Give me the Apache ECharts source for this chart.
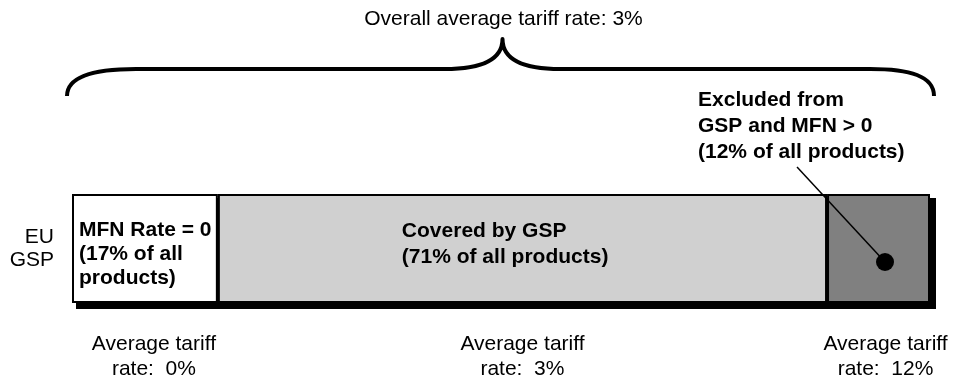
<!DOCTYPE html>
<html>
<head>
<meta charset="utf-8">
<script src="https://cdn.jsdelivr.net/npm/echarts@6/dist/echarts.min.js"></script>
<style>
  html, body { margin: 0; padding: 0; background: #fff; }
  #chart { width: 965px; height: 382px; }
</style>
</head>
<body>
<div id="chart"></div>
<script>
// Shares of all products by EU GSP treatment, and the average tariff of each group
const categories = ['EU\nGSP'];
const segmentNames = ['MFN Rate = 0', 'Covered by GSP', 'Excluded from GSP and MFN > 0'];
const shares = [17, 71, 12];
const avgTariffs = [0, 3, 12];
const overallTariff = 3;
const segmentColors = ['#ffffff', '#d0d0d0', '#808080'];

const FONT = '"Liberation Sans", Arial, Helvetica, sans-serif';

// Cumulative starts / centres of each segment along the share axis
const starts = shares.map((_, i) => shares.slice(0, i).reduce((a, b) => a + b, 0));
const centers = shares.map((s, i) => starts[i] + s / 2);
const total = shares.reduce((a, b) => a + b, 0);

const barLabelText = [
  segmentNames[0] + '\n(' + shares[0] + '% of all\nproducts)',
  segmentNames[1] + '\n(' + shares[1] + '% of all products)',
  ''
];
const barLabelPos = [[7, 24], [184, 24], [0, 0]];
const barLabelLH = [24, 26, 26];

const barSeries = shares.map((v, i) => ({
  name: segmentNames[i],
  type: 'bar',
  stack: 'all',
  barWidth: '100%',
  z: 3,
  data: [v],
  itemStyle: {
    color: segmentColors[i],
    borderColor: '#000',
    borderWidth: 2
  },
  label: {
    show: i < 2,
    position: barLabelPos[i],
    align: 'left',
    verticalAlign: 'top',
    formatter: barLabelText[i],
    fontFamily: FONT,
    fontWeight: 'bold',
    fontSize: 21,
    lineHeight: barLabelLH[i],
    color: '#000'
  },
  emphasis: { disabled: true },
  silent: true
}));

// Solid drop shadow behind the whole bar
const shadowSeries = {
  type: 'custom',
  silent: true,
  z: 1,
  data: [[0, total, 0]],
  renderItem(params, api) {
    const a = api.coord([api.value(0), api.value(2)]);
    const b = api.coord([api.value(1), api.value(2)]);
    const band = api.size([0, 1])[1];
    return {
      type: 'rect',
      shape: { x: a[0] + 4, y: a[1] - band / 2 + 4, width: b[0] - a[0] + 2, height: band + 2 },
      style: { fill: '#000' }
    };
  }
};

// Curly brace spanning the whole bar, with the overall rate above its tip
const braceSeries = {
  type: 'custom',
  silent: true,
  z: 5,
  data: [[0, total, 0]],
  renderItem(params, api) {
    const a = api.coord([api.value(0), api.value(2)]);
    const b = api.coord([api.value(1), api.value(2)]);
    const band = api.size([0, 1])[1];
    const top = a[1] - band / 2;
    const x0 = a[0] - 5, x1 = b[0] + 4;
    const yEnd = top - 98, yH = top - 125, yTip = top - 155;
    const xm = (x0 + x1) / 2 + 2;
    const path =
      'M' + x0 + ',' + yEnd +
      'C' + x0 + ',' + (yH + 7) + ' ' + (x0 + 29) + ',' + yH + ' ' + (x0 + 69) + ',' + yH +
      'L' + (xm - 58) + ',' + yH +
      'C' + (xm - 23) + ',' + yH + ' ' + xm + ',' + (yH - 8) + ' ' + xm + ',' + yTip +
      'C' + xm + ',' + (yH - 8) + ' ' + (xm + 23) + ',' + yH + ' ' + (xm + 58) + ',' + yH +
      'L' + (x1 - 64) + ',' + yH +
      'C' + (x1 - 24) + ',' + yH + ' ' + x1 + ',' + (yH + 7) + ' ' + x1 + ',' + yEnd;
    return {
      type: 'group',
      children: [
        {
          type: 'path',
          shape: { pathData: path },
          style: { fill: 'none', stroke: '#000', lineWidth: 4, lineCap: 'butt', lineJoin: 'round' }
        },
        {
          type: 'text',
          x: xm + 1,
          y: yTip - 20,
          style: {
            text: 'Overall average tariff rate: ' + overallTariff + '%',
            font: '21px ' + FONT,
            fill: '#000',
            align: 'center',
            verticalAlign: 'middle'
          }
        }
      ]
    };
  }
};

// Callout for the excluded group: leader line, dot and bold note
const calloutSeries = {
  type: 'custom',
  silent: true,
  z: 6,
  data: [[centers[2], 0]],
  renderItem(params, api) {
    const p = api.coord([api.value(0), api.value(1)]);
    const dot = [p[0] + 6.5, p[1] + 13.5];
    const start = [dot[0] - 88, dot[1] - 95];
    return {
      type: 'group',
      children: [
        {
          type: 'line',
          shape: { x1: start[0], y1: start[1], x2: dot[0], y2: dot[1] },
          style: { stroke: '#000', lineWidth: 1.5 }
        },
        {
          type: 'circle',
          shape: { cx: dot[0], cy: dot[1], r: 9 },
          style: { fill: '#000' }
        },
        {
          type: 'text',
          x: start[0] - 99,
          y: start[1] - 80,
          style: {
            text: 'Excluded from\nGSP and MFN > 0\n(' + shares[2] + '% of all products)',
            font: 'bold 21px ' + FONT,
            lineHeight: 26,
            fill: '#000',
            align: 'left',
            verticalAlign: 'top'
          }
        }
      ]
    };
  }
};

// Average tariff notes under each segment
const noteShift = [9, 0, 7];
const notesSeries = {
  type: 'custom',
  silent: true,
  z: 6,
  data: centers.map((c, i) => [c, 0, avgTariffs[i], i]),
  renderItem(params, api) {
    const p = api.coord([api.value(0), api.value(1)]);
    const band = api.size([0, 1])[1];
    const i = api.value(3);
    return {
      type: 'text',
      x: p[0] + noteShift[i],
      y: p[1] + band / 2 + 29,
      style: {
        text: 'Average tariff\nrate:  ' + api.value(2) + '%',
        font: '21px ' + FONT,
        lineHeight: 25,
        fill: '#000',
        align: 'center',
        verticalAlign: 'top'
      }
    };
  }
};

const chart = echarts.init(document.getElementById('chart'), null, { renderer: 'canvas' });
chart.setOption({
  animation: false,
  backgroundColor: '#ffffff',
  grid: { left: 72, right: 35, top: 194, bottom: 79 },
  xAxis: {
    type: 'value',
    min: 0,
    max: total,
    show: false
  },
  yAxis: {
    type: 'category',
    data: categories,
    axisLine: { show: false },
    axisTick: { show: false },
    splitLine: { show: false },
    axisLabel: {
      margin: 18,
      fontFamily: FONT,
      fontSize: 21,
      lineHeight: 23,
      color: '#000',
      align: 'right',
      padding: [0, 0, 14, 0]
    }
  },
  series: [shadowSeries, ...barSeries, braceSeries, calloutSeries, notesSeries]
});
</script>
</body>
</html>
